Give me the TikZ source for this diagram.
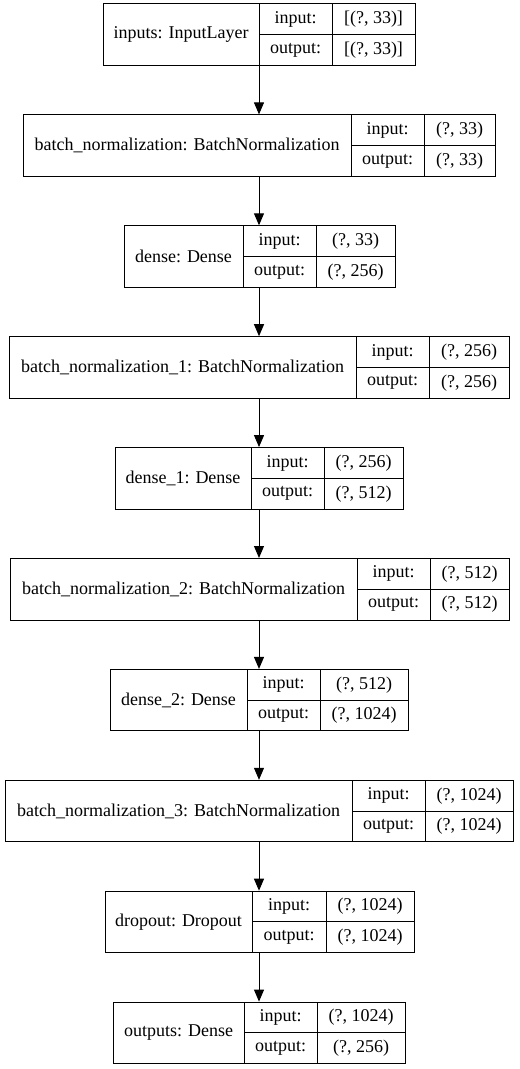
\documentclass[tikz,border=0pt]{standalone}
\usepackage{fontspec}
\setmainfont{Liberation Serif}
\usetikzlibrary{arrows.meta}

\begin{document}
\begin{tikzpicture}[x=0.75bp,y=-0.75bp,line width=0.75bp]
        \tikzstyle{every node}=[font=\fontsize{13.5bp}{16bp}\selectfont, inner sep=0pt]
        \tikzstyle{cell}=[draw, rectangle, minimum height=23.15pt]
        \tikzstyle{flow}=[-{Triangle[width=7.5bp,length=9bp]}]
        \useasboundingbox (0,0) rectangle (519,1069);
        \coordinate (axis) at (259,0);
        \foreach \i/\xa/\xb/\xc/\xd/\lab/\vin/\vout in {
            0/103/259/332/415/{inputs: InputLayer}/{[(?, 33)]}/{[(?, 33)]},
            1/23/351/424/495/{batch\_normalization: BatchNormalization}/{(?, 33)}/{(?, 33)},
            2/124/243/316/395/{dense: Dense}/{(?, 33)}/{(?, 256)},
            3/9/356/429/509/{batch\_normalization\_1: BatchNormalization}/{(?, 256)}/{(?, 256)},
            4/115/251/324/403/{dense\_1: Dense}/{(?, 256)}/{(?, 512)},
            5/10/357/430/509/{batch\_normalization\_2: BatchNormalization}/{(?, 512)}/{(?, 512)},
            6/110/247/320/408/{dense\_2: Dense}/{(?, 512)}/{(?, 1024)},
            7/5/352/425/513/{batch\_normalization\_3: BatchNormalization}/{(?, 1024)}/{(?, 1024)},
            8/105/252/326/414/{dropout: Dropout}/{(?, 1024)}/{(?, 1024)},
            9/113/244/317/405/{outputs: Dense}/{(?, 1024)}/{(?, 256)}} {
            \pgfmathsetmacro\yt{4+110.9*\i}
            \pgfmathsetmacro\ym{\yt+30.75}
            \node[cell, minimum width={(\xb-\xa)*0.7528pt}, minimum height=46.3pt] (L\i) at ({(\xa+\xb)/2},\ym) {\lab};
            \node[cell, minimum width={(\xc-\xb)*0.7528pt}] (L\i-in) at ({(\xb+\xc)/2},{\yt+15.375}) {input:};
            \node[cell, minimum width={(\xd-\xc)*0.7528pt}] (L\i-inval) at ({(\xc+\xd)/2},{\yt+15.375}) {\vin};
            \node[cell, minimum width={(\xc-\xb)*0.7528pt}] (L\i-out) at ({(\xb+\xc)/2},{\yt+46.125}) {output:};
            \node[cell, minimum width={(\xd-\xc)*0.7528pt}] (L\i-outval) at ({(\xc+\xd)/2},{\yt+46.125}) {\vout};
        }
        \foreach \i [evaluate=\i as \j using int(\i+1)] in {0,...,8}
            \draw[flow] (L\i.south -| axis) -- (L\j.north -| axis);
    \end{tikzpicture}
\end{document}
